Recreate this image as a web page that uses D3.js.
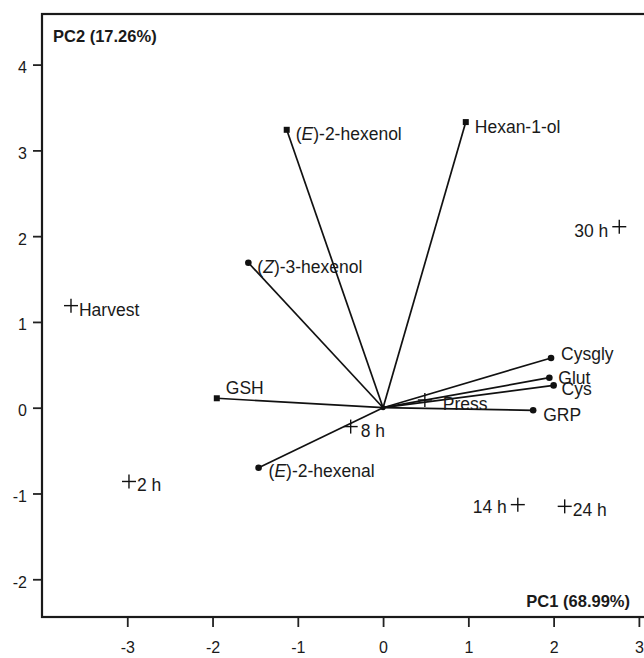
<!DOCTYPE html>
<html>
<head>
<meta charset="utf-8">
<script src="https://cdn.jsdelivr.net/npm/d3@7"></script>
<style>
  body { margin: 0; background: #fff; }
  text { font-family: "Liberation Sans", Arial, sans-serif; fill: #1a1a1a; }
</style>
</head>
<body>
<div id="biplot"></div>
<script>
// loadings (variables), drawn as vectors from the origin
var varNames = ["(E)-2-hexenol", "Hexan-1-ol", "(Z)-3-hexenol", "GSH", "(E)-2-hexenal",
                "Cysgly", "Glut", "Cys", "GRP"];
var varPC1 = [-1.13, 0.97, -1.58, -1.95, -1.46, 1.97, 1.95, 2.00, 1.76];
var varPC2 = [3.24, 3.33, 1.69, 0.11, -0.70, 0.58, 0.35, 0.26, -0.03];

// scores (samples), drawn as crosses
var sampleNames = ["Harvest", "2 h", "8 h", "Press", "14 h", "24 h", "30 h"];
var samplePC1 = [-3.66, -2.98, -0.38, 0.49, 1.58, 2.13, 2.77];
var samplePC2 = [1.19, -0.86, -0.22, 0.09, -1.13, -1.15, 2.11];

var xTicks = [-3, -2, -1, 0, 1, 2, 3];
var yTicks = [-2, -1, 0, 1, 2, 3, 4];

// label placement: [dx, dy, anchor]
var labelPos = {
  "(E)-2-hexenol": [9, 10, "start"],
  "Hexan-1-ol": [9, 11, "start"],
  "(Z)-3-hexenol": [9, 10, "start"],
  "GSH": [9, -4, "start"],
  "(E)-2-hexenal": [10, 9, "start"],
  "Cysgly": [10, 2, "start"],
  "Glut": [9, 6, "start"],
  "Cys": [8, 10, "start"],
  "GRP": [10, 11, "start"],
  "Harvest": [8, 10, "start"],
  "2 h": [8, 10, "start"],
  "8 h": [10, 10, "start"],
  "Press": [18, 10, "start"],
  "14 h": [-11, 8, "end"],
  "24 h": [8, 10, "start"],
  "30 h": [-11, 10, "end"]
};
var squareMarkers = ["(E)-2-hexenol", "Hexan-1-ol", "GSH"];

var width = 644, height = 658;
var x = d3.scaleLinear().domain([-4, 3.06]).range([42, 644]);
var y = d3.scaleLinear().domain([-2.44, 4.59]).range([617, 14]);

var svg = d3.select("#biplot").append("svg")
  .attr("width", width)
  .attr("height", height);

var fmt = d => String(d); // plain hyphen minus, like the original

// axes
var xAxis = svg.append("g")
  .attr("transform", "translate(0," + y.range()[0] + ")")
  .call(d3.axisBottom(x).tickValues(xTicks).tickSize(10).tickFormat(fmt));
var yAxis = svg.append("g")
  .attr("transform", "translate(" + x.range()[0] + ",0)")
  .call(d3.axisLeft(y).tickValues(yTicks).tickSize(9).tickFormat(fmt));

[xAxis, yAxis].forEach(function (g) {
  g.select(".domain").remove();
  g.selectAll(".tick line").attr("stroke", "#222").attr("stroke-width", 1.8);
  g.selectAll(".tick text")
    .style("font-family", "'Liberation Sans', Arial, sans-serif")
    .style("font-size", "16px")
    .attr("fill", "#1a1a1a");
});
xAxis.selectAll(".tick text").attr("y", 25);
yAxis.selectAll(".tick text").attr("x", -15).attr("dy", "0.5em");

// frame (right edge falls just outside the picture)
svg.append("rect")
  .attr("x", x.range()[0])
  .attr("y", y.range()[1])
  .attr("width", 606)
  .attr("height", y.range()[0] - y.range()[1])
  .attr("fill", "none")
  .attr("stroke", "#1a1a1a")
  .attr("stroke-width", 2.2);

// axis titles
svg.append("text")
  .attr("x", 53).attr("y", 42)
  .style("font-size", "16.5px").style("font-weight", "bold")
  .text("PC2 (17.26%)");
svg.append("text")
  .attr("x", 630).attr("y", 607)
  .attr("text-anchor", "end")
  .style("font-size", "16.5px").style("font-weight", "bold")
  .text("PC1 (68.99%)");

// vectors
var vars = varNames.map(function (n, i) { return {name: n, pc1: varPC1[i], pc2: varPC2[i]}; });
var samples = sampleNames.map(function (n, i) { return {name: n, pc1: samplePC1[i], pc2: samplePC2[i]}; });

svg.append("g").selectAll("line")
  .data(vars)
  .enter()
  .append("line")
  .attr("x1", x(0)).attr("y1", y(0))
  .attr("x2", d => x(d.pc1)).attr("y2", d => y(d.pc2))
  .attr("stroke", "#111")
  .attr("stroke-width", 1.7);

svg.append("circle")
  .attr("cx", x(0)).attr("cy", y(0)).attr("r", 2.5).attr("fill", "#111");

var markers = svg.append("g");
vars.forEach(function (d) {
  if (squareMarkers.indexOf(d.name) >= 0) {
    markers.append("rect")
      .attr("x", x(d.pc1) - 3).attr("y", y(d.pc2) - 3)
      .attr("width", 6).attr("height", 6)
      .attr("fill", "#111");
  } else {
    markers.append("circle")
      .attr("cx", x(d.pc1)).attr("cy", y(d.pc2))
      .attr("r", 3.3).attr("fill", "#111");
  }
});

// labels, with italic E / Z
function addLabel(d) {
  var p = labelPos[d.name];
  var t = svg.append("text")
    .attr("x", x(d.pc1) + p[0])
    .attr("y", y(d.pc2) + p[1])
    .attr("text-anchor", p[2])
    .style("font-size", "17.5px");
  var m = d.name.match(/^\((E|Z)\)(.*)$/);
  if (m) {
    t.append("tspan").text("(");
    t.append("tspan").style("font-style", "italic").text(m[1]);
    t.append("tspan").text(")" + m[2]);
  } else {
    t.text(d.name);
  }
}
vars.forEach(addLabel);

// sample crosses
var cross = 7;
var sg = svg.append("g").selectAll("g")
  .data(samples)
  .enter()
  .append("g")
  .attr("transform", d => "translate(" + x(d.pc1) + "," + y(d.pc2) + ")");
sg.append("line").attr("x1", -cross).attr("x2", cross).attr("y1", 0).attr("y2", 0)
  .attr("stroke", "#111").attr("stroke-width", 1.4);
sg.append("line").attr("y1", -cross).attr("y2", cross).attr("x1", 0).attr("x2", 0)
  .attr("stroke", "#111").attr("stroke-width", 1.4);
samples.forEach(addLabel);
</script>
</body>
</html>
